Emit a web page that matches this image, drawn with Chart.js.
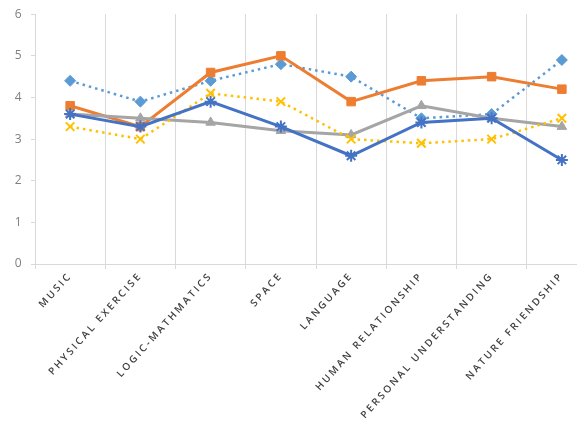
<!DOCTYPE html>
<html lang="en">
<head>
  <meta charset="UTF-8" />
  <title>Intelligence Scores</title>
  <script src="https://cdn.jsdelivr.net/npm/chart.js"></script>
  <style>
    html, body { margin: 0; padding: 0; background: #fff; overflow: hidden; }
    #wrap { width: 620px; height: 438px; }
  </style>
</head>
<body>
<div id="wrap"><canvas id="lineChart" width="620" height="438"></canvas></div>

<script>
  const categories = ['MUSIC', 'PHYSICAL EXERCISE', 'LOGIC-MATHMATICS', 'SPACE', 'LANGUAGE',
    'HUMAN RELATIONSHIP', 'PERSONAL UNDERSTANDING', 'NATURE FRIENDSHIP'];
  const yTicks = [0, 1, 2, 3, 4, 5, 6];

  const seriesDiamond = [4.4, 3.9, 4.4, 4.8, 4.5, 3.5, 3.6, 4.9];
  const seriesSquare = [3.8, 3.3, 4.6, 5.0, 3.9, 4.4, 4.5, 4.2];
  const seriesTriangle = [3.6, 3.5, 3.4, 3.2, 3.1, 3.8, 3.5, 3.3];
  const seriesCross = [3.3, 3.0, 4.1, 3.9, 3.0, 2.9, 3.0, 3.5];
  const seriesStar = [3.6, 3.3, 3.9, 3.3, 2.6, 3.4, 3.5, 2.5];

  // wide letter spacing for the category labels, off again for the rest
  const spacingPlugin = {
    id: 'spacing',
    beforeDraw(chart) { chart.ctx.letterSpacing = '2.4px'; },
    beforeDatasetsDraw(chart) { chart.ctx.letterSpacing = '0px'; }
  };

  function makeSet(label, data, color, style, dashed, radius) {
    return {
      label: label,
      data: data,
      borderColor: color,
      backgroundColor: color,
      borderWidth: dashed ? 2.5 : 3,
      borderDash: dashed ? [2.5, 4] : [],
      pointStyle: style,
      pointRadius: radius,
      pointBorderColor: color,
      pointBackgroundColor: color,
      pointBorderWidth: style === 'crossRot' || style === 'star' ? 2 : 1,
      tension: 0,
      fill: false
    };
  }

  // first dataset is drawn on top
  const datasets = [
    makeSet('Series 5', seriesStar, '#4472C4', 'star', false, 6),
    makeSet('Series 4', seriesCross, '#FFC000', 'crossRot', true, 6),
    makeSet('Series 3', seriesTriangle, '#A5A5A5', 'triangle', false, 5.5),
    makeSet('Series 2', seriesSquare, '#ED7D31', 'rect', false, 6),
    makeSet('Series 1', seriesDiamond, '#5B9BD5', 'rectRot', true, 5.5)
  ];

  const ctx = document.getElementById('lineChart').getContext('2d');
  new Chart(ctx, {
    type: 'line',
    data: { labels: categories, datasets: datasets },
    plugins: [spacingPlugin],
    options: {
      responsive: false,
      animation: false,
      layout: { autoPadding: false, padding: { top: 14, right: 23, left: 0, bottom: 0 } },
      plugins: { legend: { display: false }, tooltip: { enabled: false } },
      scales: {
        x: {
          offset: true,
          grid: { offset: true, color: '#d9d9d9', lineWidth: 1, tickLength: 5 },
          border: { color: '#d9d9d9' },
          ticks: {
            minRotation: 48,
            maxRotation: 48,
            autoSkip: false,
            padding: 1,
            color: '#404040',
            font: { family: 'Open Sans', size: 10, weight: '600' }
          },
          afterFit(scale) { scale.height = 174; }
        },
        y: {
          min: 0,
          max: 6,
          afterBuildTicks(scale) { scale.ticks = yTicks.map(v => ({ value: v })); },
          grid: { drawOnChartArea: false, drawTicks: true, tickLength: 4, color: '#d9d9d9' },
          border: { display: true, color: '#d9d9d9' },
          ticks: {
            padding: 7,
            color: '#7f7f7f',
            font: { family: 'Open Sans', size: 12 }
          },
          afterFit(scale) { scale.width = 35; }
        }
      }
    }
  });
</script>
</body>
</html>
